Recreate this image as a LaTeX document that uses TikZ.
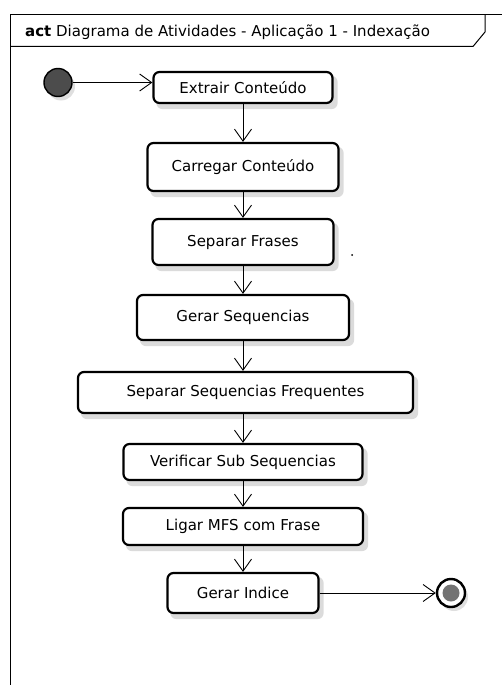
\documentclass[tikz,border=0pt]{standalone}
\usepackage{fontspec}
\setmainfont{DejaVu Sans}
\usetikzlibrary{arrows.meta,backgrounds}
\begin{document}
\begin{tikzpicture}[x=1pt,y=-1pt,
  actbox/.style={draw=black,line width=2.2pt,rounded corners=6pt,fill=white,
    inner sep=0pt,font=\fontsize{15}{17}\selectfont},
  shadowfill/.style={fill=gray!28,rounded corners=6pt},
  flow/.style={draw=black,line width=0.9pt,-{Straight Barb[length=12pt,width=17pt,line width=0.9pt]}},
  frameline/.style={draw=black,line width=1pt}
]
\useasboundingbox (0,0) rectangle (502,685);
% frame
\draw[frameline] (502,15) -- (10.5,15) -- (10.5,685);
\draw[frameline] (485,15) -- (485,32) -- (473,46.5) -- (10.5,46.5);
\node[anchor=base west,inner sep=0pt,font=\fontsize{15}{17}\selectfont] (title) at (25,37)
  {\textbf{act} Diagrama de Atividades - Aplicação 1 - Indexação};
% nodes
\node[circle,minimum size=28pt,inner sep=0pt,draw=black,line width=1.4pt,fill=black!70] (init) at (58,82.5) {};
\node[actbox,minimum width=179pt,minimum height=31pt] (extrair) at (243,87.5) {Extrair Conteúdo};
\node[actbox,minimum width=191pt,minimum height=48pt] (carregar) at (243,167) {Carregar Conteúdo};
\node[actbox,minimum width=181pt,minimum height=46pt] (frases) at (243,242) {Separar Frases};
\node[actbox,minimum width=212pt,minimum height=45pt] (gerarseq) at (243,317.5) {Gerar Sequencias};
\node[actbox,minimum width=335pt,minimum height=41pt] (ssf) at (245.5,392.5) {Separar Sequencias Frequentes};
\node[actbox,minimum width=239pt,minimum height=36pt] (verificar) at (243,462) {Verificar Sub Sequencias};
\node[actbox,minimum width=240pt,minimum height=37pt] (ligar) at (243,526.5) {Ligar MFS com Frase};
\node[actbox,minimum width=151pt,minimum height=40pt] (indice) at (243,593) {Gerar Indice};
\node[circle,minimum size=28pt,inner sep=0pt,draw=black,line width=2.4pt,fill=white] (final) at (451,593) {};
\node[circle,minimum size=17pt,inner sep=0pt,fill=black!55] (finalin) at (final.center) {};
\fill[black] (352,255) circle (1pt);
% shadows
\begin{scope}[on background layer]
\foreach \n in {extrair,carregar,frases,gerarseq,ssf,verificar,ligar,indice}{
  \fill[shadowfill] ([shift={(4,5)}]\n.north west) rectangle ([shift={(4,5)}]\n.south east);
}
\fill[gray!25] ([shift={(3,4)}]init.center) circle (14pt);
\fill[gray!25] ([shift={(3,4)}]final.center) circle (14pt);
\end{scope}
% connectors
\draw[flow] (init.east) -- (extrair.west |- init.east);
\draw[flow] (extrair.south) -- (carregar.north);
\draw[flow] (carregar.south) -- (frases.north);
\draw[flow] (frases.south) -- (gerarseq.north);
\draw[flow] (gerarseq.south) -- (gerarseq.south |- ssf.north);
\draw[flow] (gerarseq.south |- ssf.south) -- (verificar.north);
\draw[flow] (verificar.south) -- (ligar.north);
\draw[flow] (ligar.south) -- (indice.north);
\draw[flow] (indice.east) -- (final.west);
\end{tikzpicture}
\end{document}
